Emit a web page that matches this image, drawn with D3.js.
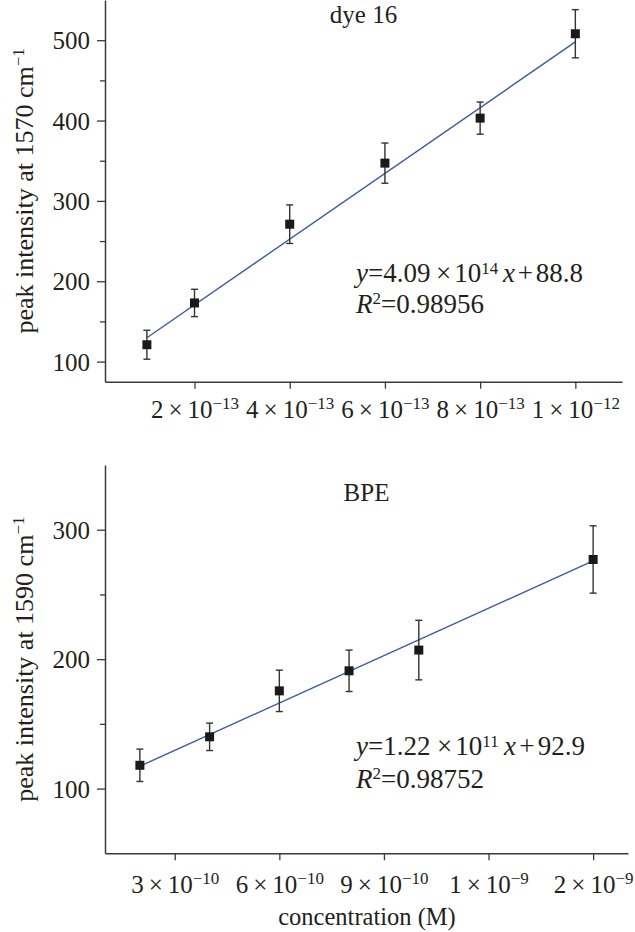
<!DOCTYPE html>
<html><head><meta charset="utf-8">
<script src="https://cdn.jsdelivr.net/npm/d3@7"></script>
<style>
html,body{margin:0;padding:0;background:#fff;}
svg text{font-family:"Liberation Serif","DejaVu Serif",serif;fill:#231f20;}
</style></head>
<body>
<script>
// ---- data ----
const dyeConc = [1e-13, 2e-13, 4e-13, 6e-13, 8e-13, 1e-12];
const dyeIntensity = [121, 173, 271, 347, 403, 508];
const dyeError = [18, 17, 24, 25, 20, 30];
const dyeFit = [4.09e14, 88.8];
const dyeXTicks = [2e-13, 4e-13, 6e-13, 8e-13, 1e-12];
const dyeXTickLabels = [["2","−13"],["4","−13"],["6","−13"],["8","−13"],["1","−12"]];
const dyeYTicks = [100, 200, 300, 400, 500];
const dyeYMinor = [150, 250, 350, 450];

const bpeConc = [2e-10, 4e-10, 6e-10, 8e-10, 1e-9, 1.5e-9];
const bpeIntensity = [118, 140, 175.5, 191, 207, 277];
const bpeError = [12.5, 10.6, 16, 16, 23, 26];
const bpeFit = [1.22e11, 92.9];
const bpeXTicks = [3e-10, 6e-10, 9e-10, 1.2e-9, 1.5e-9];
const bpeXTickLabels = [["3","−10"],["6","−10"],["9","−10"],["1","−9"],["2","−9"]];
const bpeYTicks = [100, 200, 300];
const bpeYMinor = [150, 250];

const W = 635, H = 932;
const svg = d3.select("body").append("svg").attr("width", W).attr("height", H);

const TICK_FS = 25, LABEL_FS = 26, TITLE_FS = 25, EQ_FS = 27, SUP_FS = 17;
const THIN = "\u2009";
const axisColor = "#3a3a3a";
const lineColor = "#3b5aa3";

function panel(cfg) {
  const x = d3.scaleLinear().domain(cfg.xDomain).range(cfg.xRange);
  const y = d3.scaleLinear().domain(cfg.yDomain).range(cfg.yRange);
  const g = svg.append("g");
  const x0 = cfg.xRange[0], yB = cfg.yRange[0];

  // y axis
  const yAx = g.append("g").attr("transform", `translate(${x0},0)`)
    .call(d3.axisLeft(y).tickValues(cfg.yTicks).tickSize(8).tickSizeOuter(0).tickPadding(7));
  yAx.select(".domain").attr("stroke", axisColor).attr("stroke-width", 1.5);
  yAx.selectAll(".tick line").attr("stroke", axisColor).attr("stroke-width", 1.3);
  yAx.selectAll(".tick text").attr("font-size", TICK_FS).attr("font-family", "Liberation Serif").attr("fill", "#231f20").attr("dy", "0.34em");
  const yMin = g.append("g").attr("transform", `translate(${x0},0)`)
    .call(d3.axisLeft(y).tickValues(cfg.yMinor).tickSize(5).tickSizeOuter(0).tickFormat(""));
  yMin.select(".domain").remove();
  yMin.selectAll(".tick line").attr("stroke", axisColor).attr("stroke-width", 1.3);

  // x axis
  const xAx = g.append("g").attr("transform", `translate(0,${yB})`)
    .call(d3.axisBottom(x).tickValues(cfg.xTicks).tickSize(7).tickSizeOuter(0).tickFormat(""));
  xAx.select(".domain").attr("stroke", axisColor).attr("stroke-width", 1.5);
  xAx.selectAll(".tick line").attr("stroke", axisColor).attr("stroke-width", 1.3);
  xAx.selectAll(".tick").each(function(d, i) {
    const lab = cfg.xTickLabels[i];
    const t = d3.select(this).append("text").attr("y", cfg.xLabelDy).attr("text-anchor", "middle")
      .attr("font-size", TICK_FS).attr("fill", "#231f20").attr("font-family", "Liberation Serif");
    t.append("tspan").text(lab[0] + THIN + "×" + THIN + "10");
    t.append("tspan").attr("dy", -9).attr("font-size", SUP_FS).text(lab[1]);
  });

  // y label
  const yl = g.append("text")
    .attr("transform", `translate(${cfg.yLabelX},${(cfg.yRange[0] + cfg.yRange[1]) / 2}) rotate(-90)`)
    .attr("text-anchor", "middle").attr("font-size", LABEL_FS);
  yl.append("tspan").text(cfg.yLabel);
  yl.append("tspan").attr("dy", -9).attr("font-size", SUP_FS).text("−1");

  // title
  g.append("text").attr("x", (cfg.xRange[0] + cfg.xRange[1]) / 2).attr("y", cfg.titleY)
    .attr("text-anchor", "middle").attr("font-size", TITLE_FS).text(cfg.title);

  // fit line
  const xs = [d3.min(cfg.conc), d3.max(cfg.conc)];
  g.append("line")
    .attr("x1", x(xs[0])).attr("y1", y(cfg.fit[0] * xs[0] + cfg.fit[1]))
    .attr("x2", x(xs[1])).attr("y2", y(cfg.fit[0] * xs[1] + cfg.fit[1]))
    .attr("stroke", lineColor).attr("stroke-width", 1.4);

  // error bars
  const data = cfg.conc.map((c, i) => ({c, v: cfg.val[i], e: cfg.err[i]}));
  const eb = g.append("g").attr("stroke", "#333").attr("stroke-width", 1.4);
  data.forEach(d => {
    const cx = x(d.c);
    eb.append("line").attr("x1", cx).attr("x2", cx).attr("y1", y(d.v - d.e)).attr("y2", y(d.v + d.e));
    eb.append("line").attr("x1", cx - 3.5).attr("x2", cx + 3.5).attr("y1", y(d.v + d.e)).attr("y2", y(d.v + d.e));
    eb.append("line").attr("x1", cx - 3.5).attr("x2", cx + 3.5).attr("y1", y(d.v - d.e)).attr("y2", y(d.v - d.e));
  });
  // markers
  g.selectAll("rect.pt").data(data).enter().append("rect")
    .attr("x", d => x(d.c) - 4.5).attr("y", d => y(d.v) - 4.5)
    .attr("width", 9).attr("height", 9).attr("fill", "#1a1a1a");

  // equation
  const eq = g.append("text").attr("x", cfg.eqX).attr("y", cfg.eqY).attr("font-size", EQ_FS);
  eq.append("tspan").attr("font-style", "italic").text("y");
  eq.append("tspan").text("=" + cfg.eqSlope);
  const gaps = [];
  gaps.push(eq.append("tspan").text("×"));
  gaps.push(eq.append("tspan").text("10"));
  eq.append("tspan").attr("dy", -8).attr("font-size", SUP_FS).text(cfg.eqExp);
  const xt = eq.append("tspan").attr("dy", 8).attr("font-style", "italic").text("x");
  gaps.push(xt);
  gaps.push(eq.append("tspan").text("+"));
  gaps.push(eq.append("tspan").text(cfg.eqInt));
  const natural = eq.node().getComputedTextLength();
  const extra = Math.max(0, cfg.eqWidth - natural);
  const weights = [0.3, 0.15, 0.25, 0.15, 0.15];
  gaps.forEach((t, i) => t.attr("dx", extra * weights[i]));

  const r2 = g.append("text").attr("x", cfg.eqX).attr("y", cfg.eqY + cfg.r2Dy).attr("font-size", EQ_FS);
  r2.append("tspan").attr("font-style", "italic").text("R");
  r2.append("tspan").attr("dy", -9).attr("font-size", SUP_FS).text("2");
  r2.append("tspan").attr("dy", 9).text("=" + cfg.r2);
}

panel({
  conc: dyeConc, val: dyeIntensity, err: dyeError, fit: dyeFit,
  xDomain: [0.12e-13, 1.098e-12], xRange: [105, 622],
  yDomain: [75, 550], yRange: [381.7, 0],
  xTicks: dyeXTicks, xTickLabels: dyeXTickLabels, xLabelDy: 36,
  yTicks: dyeYTicks, yMinor: dyeYMinor,
  yLabel: "peak intensity at 1570 cm", yLabelX: 33,
  title: "dye 16", titleY: 23,
  eqX: 356, eqY: 281.5, r2Dy: 31.5, eqWidth: 227, eqSlope: "4.09", eqExp: "14", eqInt: "88.8", r2: "0.98956"
});

panel({
  conc: bpeConc, val: bpeIntensity, err: bpeError, fit: bpeFit,
  xDomain: [1e-10, 1.6e-9], xRange: [105, 628],
  yDomain: [50, 350], yRange: [853.3, 465],
  xTicks: bpeXTicks, xTickLabels: bpeXTickLabels, xLabelDy: 40,
  yTicks: bpeYTicks, yMinor: bpeYMinor,
  yLabel: "peak intensity at 1590 cm", yLabelX: 33,
  title: "BPE", titleY: 501,
  eqX: 356, eqY: 755, r2Dy: 33, eqWidth: 229, eqSlope: "1.22", eqExp: "11", eqInt: "92.9", r2: "0.98752"
});

svg.append("text").attr("x", 367).attr("y", 925).attr("text-anchor", "middle")
  .attr("font-size", 24.5).text("concentration (M)");
</script>
</body></html>
